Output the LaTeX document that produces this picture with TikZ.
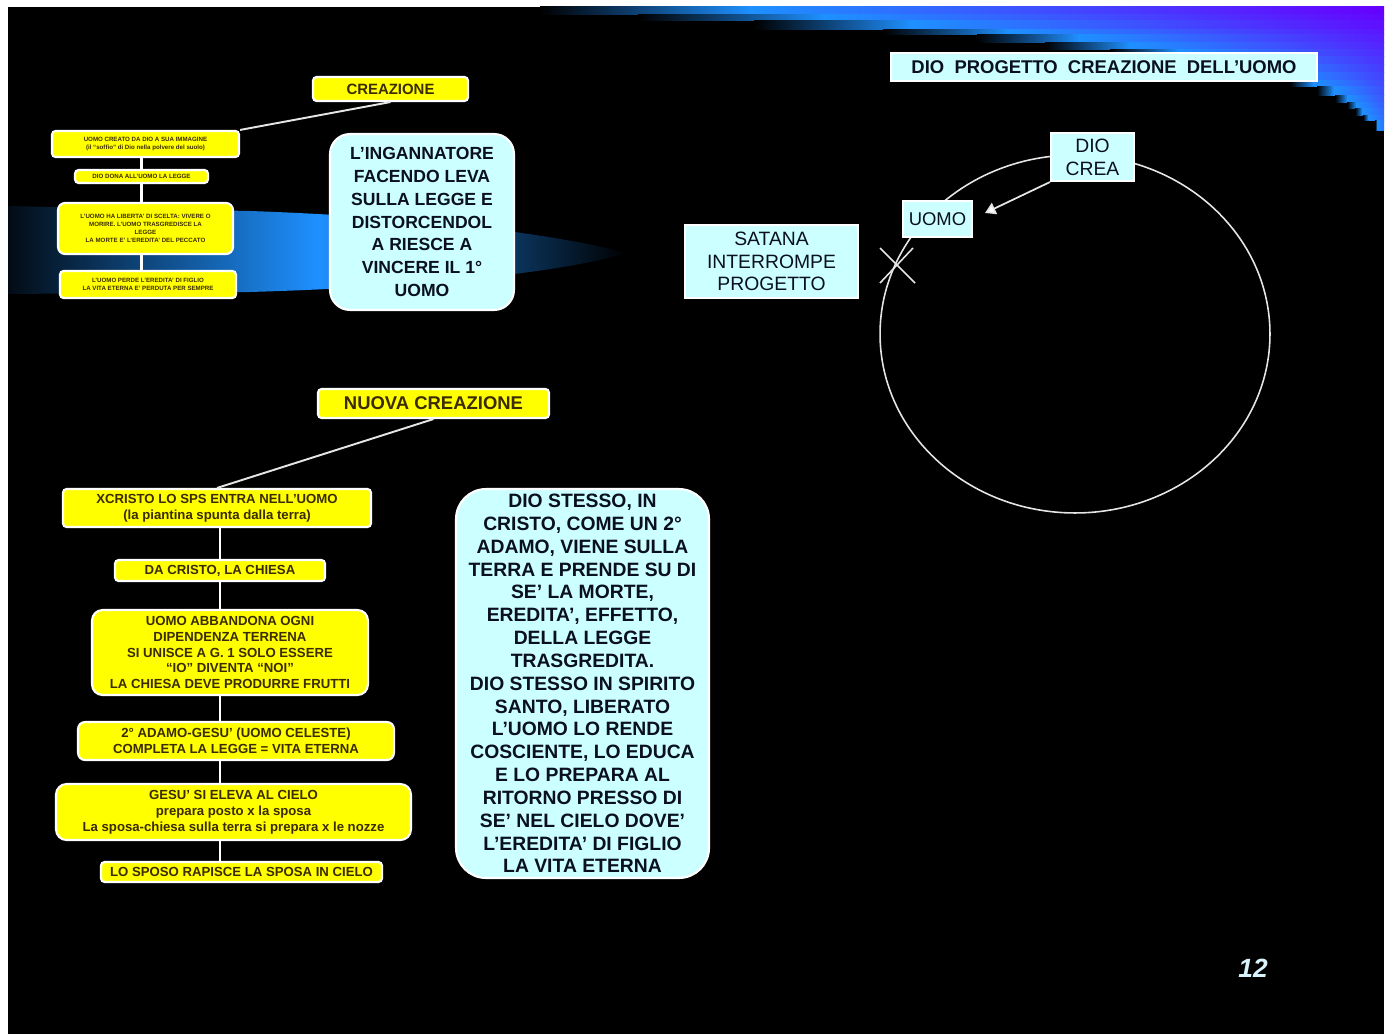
\documentclass[tikz,border=0pt]{standalone}
\usepackage{fontspec}
\setmainfont{Liberation Sans}
\usetikzlibrary{arrows.meta}
\definecolor{giallo}{HTML}{FFFF00}
\definecolor{celeste}{HTML}{CCFFFF}
\definecolor{azzurro}{HTML}{1E90FF}
\definecolor{viola}{HTML}{6600FF}
\definecolor{inchiostro}{HTML}{3B2B00}
\definecolor{blunotte}{HTML}{0A1020}
\tikzset{%
  giallobox/.style={%
    rectangle,%
    rounded corners=2pt,%
    draw=white,%
    line width=1.2pt,%
    fill=giallo,%
    text=inchiostro,%
    align=center,%
    inner sep=1pt,%
    font=\bfseries\fontsize{7.5}{9}\selectfont},%
  minibox/.style={%
    giallobox,%
    font=\bfseries\fontsize{3.5}{4.6}\selectfont},%
  celestebox/.style={%
    rectangle,%
    draw=white,%
    line width=1.2pt,%
    fill=celeste,%
    text=blunotte,%
    align=center,%
    inner sep=1pt,%
    font=\fontsize{11}{13}\selectfont},%
  nuvola/.style={%
    celestebox,%
    rounded corners=0.4cm,%
    font=\bfseries\fontsize{10}{13}\selectfont},%
  filo/.style={white, line width=1.2pt},%
  filogrigio/.style={white!80!gray, line width=1.1pt},%
  cerchio/.style={white!80!gray, line width=0.9pt},%
  freccia/.style={white!80!gray, line width=1pt,%
    -{Triangle[width=7pt,length=6pt,fill=white]}}
}

\begin{document}
\begin{tikzpicture}[x=0.02cm,y=-0.02cm]
  \useasboundingbox (0,0) rectangle (1391,1034);
  \fill[white] (0,0) rectangle (1391,1034);
  \fill[black] (8,7) rectangle (1384,1034);
  \foreach \ya/\yb/\xs/\pv in {7/15/540/100, 15/21/638/95, 21/30/754/90,
      30/35/883/85, 35/43/977/80, 43/50/1045/75, 50/57/1110/70,
      57/65/1170/65, 65/73/1220/60, 73/81/1260/55, 81/87/1290/50,
      87/95/1317/45, 95/102/1335/40, 102/108/1347/35, 108/115/1355/30,
      115/120/1363/25, 120/130/1375/20}{
    \pgfmathsetmacro\xf{\xs+0.25*(1384-\xs)}
    \shade[left color=black, right color=azzurro] (\xs,\ya) rectangle (\xf,\yb);
    \shade[left color=azzurro, right color=viola!\pv!azzurro] (\xf,\ya) rectangle (1384,\yb);
  }
  \shade[left color=azzurro!8!black, right color=black, middle color=azzurro]
    (8,206) -- (250,211) .. controls (450,218) and (570,238) .. (627,253)
    .. controls (570,270) and (450,286) .. (250,292) -- (8,294) -- cycle;
  \draw[cerchio] (1075,334) ellipse [x radius=3.9cm, y radius=3.58cm];
  \draw[cerchio] (880,248) -- (915,283) (913,248) -- (880,283);

  \node[celestebox, font=\bfseries\fontsize{10.5}{12}\selectfont,
    minimum width=8.52cm, minimum height=0.56cm] (titolo) at (1104,67)
    {DIO~~PROGETTO~~CREAZIONE~~DELL'UOMO};
  \node[celestebox, minimum width=1.66cm, minimum height=0.96cm] (diocrea)
    at (1092.5,157) {DIO\\CREA};
  \node[celestebox, font=\fontsize{10.5}{12}\selectfont,
    minimum width=1.38cm, minimum height=0.72cm] (uomo) at (937.5,219) {UOMO};
  \node[celestebox, minimum width=3.46cm, minimum height=1.46cm] (satana)
    at (771.5,261.5) {SATANA\\INTERROMPE\\PROGETTO};

  \node[giallobox, font=\bfseries\fontsize{8.5}{10}\selectfont,
    minimum width=3.1cm, minimum height=0.48cm] (creaz) at (390.5,89) {CREAZIONE};
  \node[minibox, minimum width=3.74cm, minimum height=0.52cm] (s1) at (145.5,144)
    {UOMO CREATO DA DIO A SUA IMMAGINE\\(il ``soffio'' di Dio nella polvere del suolo)};
  \node[minibox, minimum width=2.66cm, minimum height=0.26cm] (s2) at (141.5,176.5)
    {DIO DONA ALL'UOMO LA LEGGE};
  \node[minibox, rounded corners=4pt, minimum width=3.5cm, minimum height=1.02cm]
    (s3) at (145.5,228.5)
    {L'UOMO HA LIBERTA' DI SCELTA: VIVERE O\\MORIRE. L'UOMO TRASGREDISCE LA\\LEGGE\\LA
     MORTE E' L'EREDITA' DEL PECCATO};
  \node[minibox, minimum width=3.52cm, minimum height=0.54cm] (s4) at (148,284.5)
    {L'UOMO PERDE L'EREDITA' DI FIGLIO\\LA VITA ETERNA E' PERDUTA PER SEMPRE};
  \node[nuvola, minimum width=3.68cm, minimum height=3.52cm] (ingan) at (422,222)
    {L'INGANNATORE\\FACENDO LEVA\\SULLA LEGGE E\\DISTORCENDOL\\A RIESCE A\\VINCERE IL 1°\\UOMO};

  \node[giallobox, font=\bfseries\fontsize{10.5}{12}\selectfont,
    minimum width=4.62cm, minimum height=0.58cm] (nuova) at (433.5,403.5)
    {NUOVA CREAZIONE};
  \node[giallobox, minimum width=6.16cm, minimum height=0.76cm] (A) at (217,508)
    {XCRISTO LO SPS ENTRA NELL'UOMO\\(la piantina spunta dalla terra)};
  \node[giallobox, minimum width=4.2cm, minimum height=0.42cm] (B) at (220,570.5)
    {DA CRISTO, LA CHIESA};
  \node[giallobox, rounded corners=6pt, minimum width=5.52cm, minimum height=1.7cm]
    (C) at (230,652.5)
    {UOMO ABBANDONA OGNI\\DIPENDENZA TERRENA\\SI UNISCE A G. 1 SOLO ESSERE\\``IO'' DIVENTA ``NOI''\\LA CHIESA DEVE PRODURRE FRUTTI};
  \node[giallobox, rounded corners=4pt, minimum width=6.32cm, minimum height=0.76cm]
    (D) at (236,741)
    {2° ADAMO-GESU' (UOMO CELESTE)\\COMPLETA LA LEGGE = VITA ETERNA};
  \node[giallobox, rounded corners=6pt, minimum width=7.1cm, minimum height=1.12cm]
    (E) at (233.5,812)
    {GESU' SI ELEVA AL CIELO\\prepara posto x la sposa\\La sposa-chiesa sulla terra si prepara x le nozze};
  \node[giallobox, minimum width=5.62cm, minimum height=0.4cm] (F) at (241.5,872)
    {LO SPOSO RAPISCE LA SPOSA IN CIELO};
  \node[nuvola, rounded corners=0.6cm, font=\bfseries\fontsize{11}{13}\selectfont,
    minimum width=5.06cm, minimum height=7.78cm] (grande) at (582.5,683.5)
    {DIO STESSO, IN\\CRISTO, COME UN 2°\\ADAMO, VIENE SULLA\\TERRA E PRENDE SU DI\\SE' LA MORTE,\\EREDITA', EFFETTO,\\DELLA LEGGE\\TRASGREDITA.\\DIO STESSO IN SPIRITO\\SANTO, LIBERATO\\L'UOMO LO RENDE\\COSCIENTE, LO EDUCA\\E LO PREPARA AL\\RITORNO PRESSO DI\\SE' NEL CIELO DOVE'\\L'EREDITA' DI FIGLIO\\LA VITA ETERNA};
  \node[text=white!85!cyan, font=\bfseries\itshape\fontsize{15}{15}\selectfont]
    (pagina) at (1253,968) {12};

  \coordinate (punta) at (985,213);
  \draw[freccia] (diocrea.south west) -- (punta);
  \draw[filogrigio] (creaz.south) -- (s1.north east);
  \draw[filogrigio] (nuova.south) -- (A.north);
  \draw[filo] (s2.north) -- (s2.north |- s1.south);
  \draw[filo] (s2.south) -- (s2.south |- s3.north);
  \draw[filo] (s3.south -| s2) -- (s4.north -| s2);
  \draw[filo] (A.south -| B) -- (B.north);
  \draw[filo] (B.south) -- (C.north -| B);
  \draw[filo] (C.south -| B) -- (D.north -| B);
  \draw[filo] (D.south -| B) -- (E.north -| B);
  \draw[filo] (E.south -| B) -- (F.north -| B);
\end{tikzpicture}
\end{document}
